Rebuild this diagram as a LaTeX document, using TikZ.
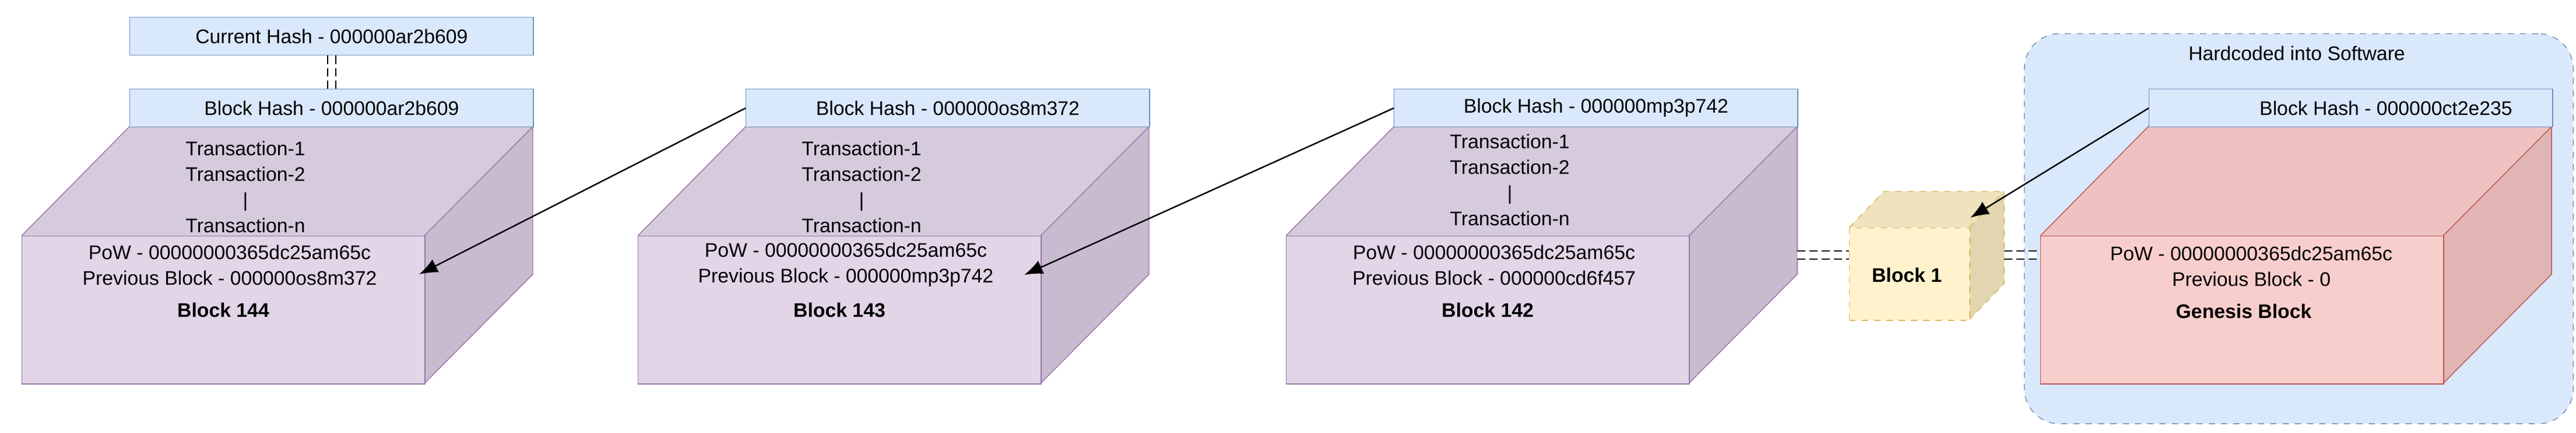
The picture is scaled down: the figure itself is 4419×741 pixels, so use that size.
\documentclass[tikz,border=0pt]{standalone}
\usepackage{fontspec}
\setmainfont{Liberation Sans}
\usetikzlibrary{arrows.meta}
\definecolor{pf}{HTML}{E1D5E7}\definecolor{pt}{HTML}{D6CADD}\definecolor{ps}{HTML}{C8BBD0}\definecolor{pd}{HTML}{9673A6}
\definecolor{bf}{HTML}{DAE8FC}\definecolor{bd}{HTML}{6C8EBF}
\definecolor{rf}{HTML}{F8CECC}\definecolor{rt}{HTML}{EDC2C1}\definecolor{rs}{HTML}{E0B5B4}\definecolor{rd}{HTML}{B85450}
\definecolor{yf}{HTML}{FFF2CC}\definecolor{yt}{HTML}{EFE2BD}\definecolor{ys}{HTML}{E2D5AF}\definecolor{yd}{HTML}{D6B656}
\tikzset{
  txt/.style={font=\fontsize{9.6}{12.5}\selectfont, align=center, inner sep=0pt},
  hash/.style={txt, draw=bd, fill=bf, minimum width=6.92cm, minimum height=0.65cm, anchor=north west},
  front/.style={draw=#1, minimum width=6.91cm, minimum height=2.53cm, anchor=north west, inner sep=0pt},
  arr/.style={-{Latex[length=9pt,width=7pt]}, line width=0.7pt},
  dbl/.style={dashed, double distance=3.5pt, line width=0.6pt, dash pattern=on 4pt off 2pt}
}
% #1 name, #2 x0, #3 front fill, #4 top fill, #5 side fill, #6 stroke
\newcommand\mycube[6]{
  \fill[#4] (#2,404) -- (#2+185,217) -- (#2+877,217) -- (#2+691,404) -- cycle;
  \fill[#5] (#2+691,404) -- (#2+877,217) -- (#2+877,470) -- (#2+691,657) -- cycle;
  \draw[#6] (#2,404) -- (#2+185,217) -- (#2+877,217) -- (#2+877,470) -- (#2+691,657);
  \draw[#6] (#2+691,404) -- (#2+877,217);
  \node[front=#6, fill=#3] (#1) at (#2,404) {};
}
\begin{document}
\begin{tikzpicture}[x=0.01cm,y=-0.01cm]
\useasboundingbox (0,0) rectangle (4419,741);
% container
\node[draw=bd!80!gray, fill=bf, dashed, rounded corners=0.6cm, minimum width=9.41cm, minimum height=6.68cm, anchor=north west] (soft) at (3472,57) {};
\node[txt] (softl) at (3940,91) {Hardcoded into Software};
% blocks
\mycube{f144}{37}{pf}{pt}{ps}{pd}
\mycube{f143}{1094}{pf}{pt}{ps}{pd}
\mycube{f142}{2206}{pf}{pt}{ps}{pd}
\mycube{fgen}{3500}{rf}{rt}{rs}{rd}
\node[hash] (h144) at (222,152) {Block Hash - 000000ar2b609};
\node[hash] (h143) at (1279,152) {Block Hash - 000000os8m372};
\node[hash] (h142) at (2391,152) {Block Hash - 000000mp3p742};
\node[hash] (hgen) at (3686,152) {\hspace{1.2cm}Block Hash - 000000ct2e235};
\node[hash] (cur) at (222,29) {Current Hash - 000000ar2b609};
% texts
\node[txt] (t144) at (421,320) {Transaction-1\\Transaction-2\\|\\Transaction-n};
\node[txt] (p144) at (394,454) {PoW - 00000000365dc25am65c\\Previous Block - 000000os8m372};
\node[txt, font=\fontsize{9.6}{12.5}\selectfont\bfseries] (l144) at (383,531) {Block 144};
\node[txt] (t143) at (1478,320) {Transaction-1\\Transaction-2\\|\\Transaction-n};
\node[txt] (p143) at (1451,454) {PoW - 00000000365dc25am65c\\Previous Block - 000000mp3p742};
\node[txt, font=\fontsize{9.6}{12.5}\selectfont\bfseries] (l143) at (1440,531) {Block 143};
\node[txt] (t142) at (2590,308) {Transaction-1\\Transaction-2\\|\\Transaction-n};
\node[txt] (p142) at (2563,454) {PoW - 00000000365dc25am65c\\Previous Block - 000000cd6f457};
\node[txt, font=\fontsize{9.6}{12.5}\selectfont\bfseries] (l142) at (2552,531) {Block 142};
\node[txt] (pgen) at (3862,456) {PoW - 00000000365dc25am65c\\Previous Block - 0};
\node[txt, font=\fontsize{9.6}{12.5}\selectfont\bfseries] (lgen) at (3849,533) {Genesis Block};
% block 1
\fill[yt] (3172,390) -- (3232,328) -- (3438,328) -- (3378,390) -- cycle;
\fill[ys] (3378,390) -- (3438,328) -- (3438,486) -- (3378,548) -- cycle;
\draw[yd, dashed] (3172,390) -- (3232,328) -- (3438,328) -- (3438,486) -- (3378,548);
\draw[yd, dashed] (3378,390) -- (3438,328);
\node[draw=yd, dashed, fill=yf, minimum width=2.06cm, minimum height=1.58cm, anchor=north west, inner sep=0pt] (b1) at (3172,390) {};
\node[txt, font=\fontsize{9.6}{12.5}\selectfont\bfseries] (l1) at (3271,471) {Block 1};
\coordinate (b1r) at (3438,437);
\coordinate (b1t) at (3380,373);
% connectors
\draw[dbl] (cur.south) -- (h144.north);
\draw[dbl] (3083,437) -- (b1.west |- 0,437);
\draw[dbl] (b1r) -- (fgen.west |- b1r);
\coordinate (a144) at (719,470);
\coordinate (a143) at (1757,471);
\draw[arr] (h143.west) -- (a144);
\draw[arr] (h142.west) -- (a143);
\draw[arr] (hgen.west) -- (b1t);
\end{tikzpicture}
\end{document}
